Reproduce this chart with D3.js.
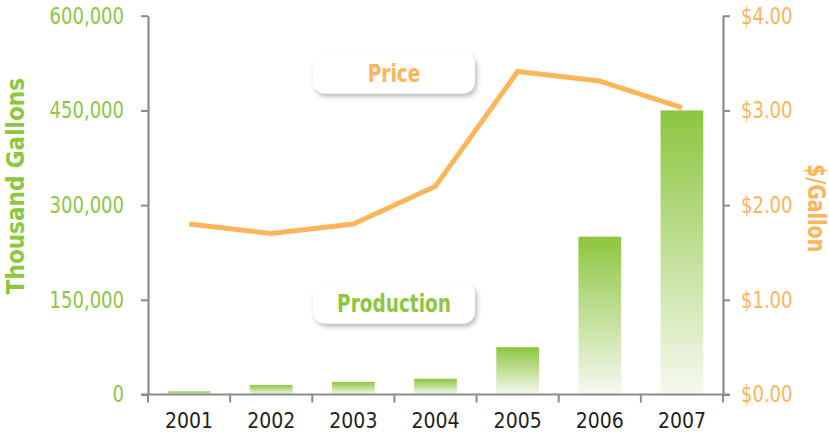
<!DOCTYPE html>
<html>
<head>
<meta charset="utf-8">
<script src="https://cdn.jsdelivr.net/npm/d3@7"></script>
<style>
  html, body { margin: 0; padding: 0; background: #ffffff; }
  svg { display: block; }
  text { font-family: "Liberation Sans Narrow", "Arial Narrow", "DejaVu Sans Condensed", sans-serif; }
</style>
</head>
<body>
<svg id="chart" width="829" height="435"></svg>
<script>
// Biodiesel production (thousand gallons) and price ($/gallon), 2001–2007
const years = ["2001", "2002", "2003", "2004", "2005", "2006", "2007"];
const production = [5000, 15000, 20000, 25000, 75000, 250000, 450000];
const price = [1.80, 1.70, 1.80, 2.20, 3.41, 3.31, 3.03];
const leftTicks = [0, 150000, 300000, 450000, 600000];
const rightTicks = [0, 1, 2, 3, 4];

const GREEN = "#8dc63f";
const ORANGE = "#fdb55a";
const AXIS = "#8a8b8f";
const INK = "#231f20";
const NARROW = 0.87; // horizontal squeeze for the condensed tick lettering

const svg = d3.select("#chart");
const x0 = 148, x1 = 723, yBottom = 394.5, yTop = 15.7;

const x = d3.scaleBand().domain(years).range([x0, x1]).paddingInner(0.48).paddingOuter(0.24);
const yL = d3.scaleLinear().domain([0, 600000]).range([yBottom, yTop]);
const yR = d3.scaleLinear().domain([0, 4]).range([yBottom, yTop]);

const defs = svg.append("defs");
const grad = defs.append("linearGradient")
  .attr("id", "barFill").attr("x1", 0).attr("y1", 0).attr("x2", 0).attr("y2", 1);
grad.append("stop").attr("offset", "0%").attr("stop-color", GREEN);
grad.append("stop").attr("offset", "100%").attr("stop-color", "#f6f9f0");

const shadow = defs.append("filter").attr("id", "boxShadow")
  .attr("x", "-20%").attr("y", "-30%").attr("width", "140%").attr("height", "170%");
shadow.append("feDropShadow").attr("dx", 2).attr("dy", 3).attr("stdDeviation", 2.5)
  .attr("flood-color", "#000").attr("flood-opacity", 0.28);

// bars
svg.append("g").selectAll("rect").data(years).join("rect")
  .attr("x", d => x(d))
  .attr("width", x.bandwidth())
  .attr("y", (d, i) => yL(production[i]))
  .attr("height", (d, i) => yBottom - yL(production[i]))
  .attr("fill", "url(#barFill)");

// price line
const line = d3.line()
  .x((d, i) => x(years[i]) + x.bandwidth() / 2)
  .y(d => yR(d));
svg.append("path").datum(price)
  .attr("d", line)
  .attr("fill", "none")
  .attr("stroke", ORANGE)
  .attr("stroke-width", 5)
  .attr("stroke-linejoin", "round");

// axes
function styleAxis(g) {
  g.selectAll("path, line").attr("stroke", AXIS).attr("stroke-width", 2);
  g.select(".domain").attr("stroke-width", 2.2);
}

const gl = svg.append("g").attr("transform", `translate(${x0},0)`)
  .call(d3.axisLeft(yL).tickValues(leftTicks).tickSize(7).tickSizeOuter(0)
    .tickPadding(17).tickFormat(d3.format(",")));
styleAxis(gl);
gl.selectAll("text").attr("fill", GREEN).attr("font-size", 23)
  .attr("x", -24 / NARROW).attr("transform", `scale(${NARROW},1)`);

const gr = svg.append("g").attr("transform", `translate(${x1},0)`)
  .call(d3.axisRight(yR).tickValues(rightTicks).tickSize(7).tickSizeOuter(0)
    .tickPadding(11).tickFormat(d => "$" + d3.format(".2f")(d)));
styleAxis(gr);
gr.selectAll("text").attr("fill", ORANGE).attr("font-size", 23)
  .attr("x", 18 / NARROW).attr("transform", `scale(${NARROW},1)`);

const gx = svg.append("g").attr("transform", `translate(0,${yBottom})`)
  .call(d3.axisBottom(x).tickSize(0).tickPadding(19));
gx.select(".domain").remove();
gx.selectAll("text").attr("fill", INK).attr("font-size", 21);
// horizontal axis line and band separators
const bounds = years.map(d => x(d) - x.step() * x.paddingInner() / 2);
bounds[0] = x0; bounds.push(x1);
gx.append("line").attr("x1", x0 - 7).attr("x2", x1 + 7).attr("y1", 0).attr("y2", 0)
  .attr("stroke", AXIS).attr("stroke-width", 2.2);
gx.selectAll(".sep").data(bounds).join("line").attr("class", "sep")
  .attr("x1", d => d).attr("x2", d => d).attr("y1", 0).attr("y2", 8)
  .attr("stroke", AXIS).attr("stroke-width", 2);

// axis titles
svg.append("text")
  .attr("transform", `translate(24,${(yTop + yBottom) / 2 - 19}) rotate(-90)`)
  .attr("text-anchor", "middle")
  .attr("fill", GREEN).attr("font-size", 24).attr("font-weight", "bold")
  .text("Thousand Gallons");
svg.append("text")
  .attr("transform", `translate(808,${(yTop + yBottom) / 2 + 3}) rotate(90) scale(0.88,1)`)
  .attr("text-anchor", "middle")
  .attr("fill", ORANGE).attr("font-size", 24).attr("font-weight", "bold")
  .text("$/Gallon");

// series tags
function tag(label, color, cy) {
  const g = svg.append("g");
  g.append("rect").attr("x", 313).attr("y", cy - 20.5).attr("width", 162).attr("height", 41)
    .attr("rx", 12).attr("fill", "#fff").attr("filter", "url(#boxShadow)");
  g.append("text").attr("transform", `translate(394,${cy}) scale(0.84,1)`)
    .attr("dy", "0.36em")
    .attr("text-anchor", "middle").attr("fill", color)
    .attr("font-size", 24.5).attr("font-weight", "bold").text(label);
}
tag("Price", ORANGE, 73);
tag("Production", GREEN, 303);
</script>
</body>
</html>
